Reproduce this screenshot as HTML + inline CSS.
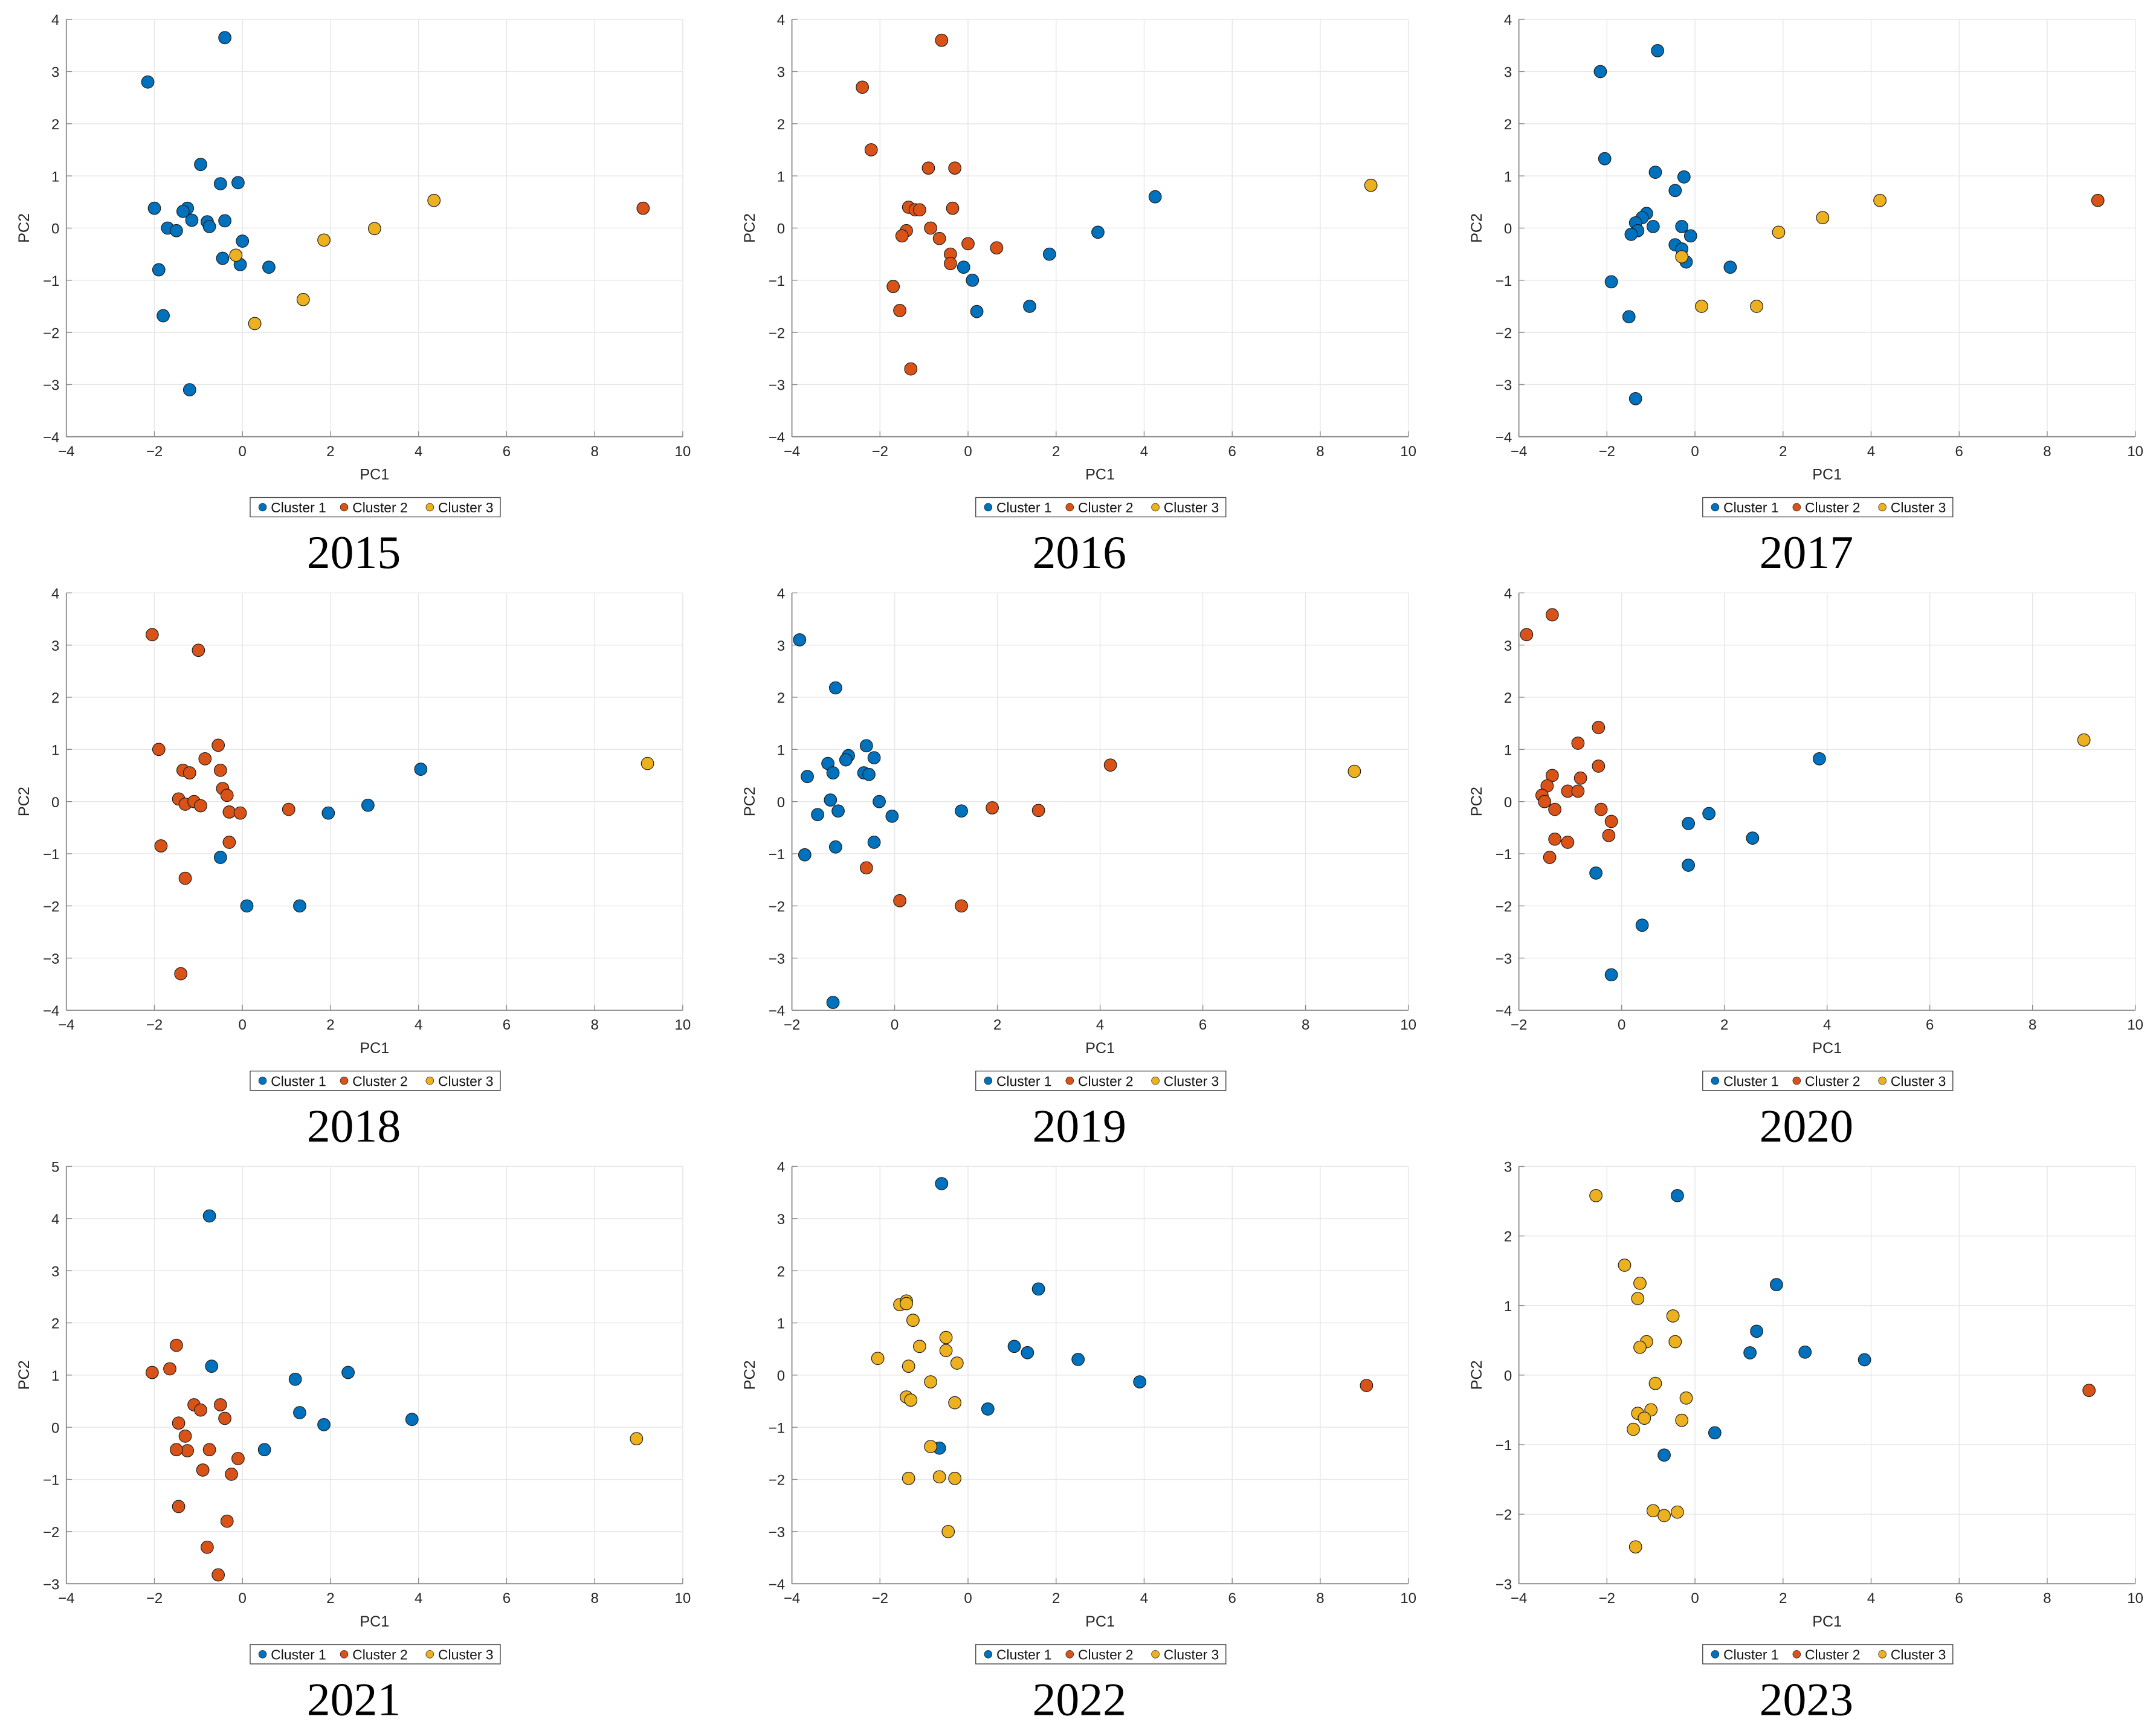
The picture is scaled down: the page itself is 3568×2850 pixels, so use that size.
<!DOCTYPE html>
<html><head><meta charset="utf-8"><style>
html,body{margin:0;padding:0;background:#fff;}
svg{display:block;}
</style></head><body>
<svg id="fig" width="3568" height="2850" viewBox="0 0 1560 1246" xmlns="http://www.w3.org/2000/svg" font-family="Liberation Sans, sans-serif"></svg>
<script>
const years = ["2015","2016","2017","2018","2019","2020","2021","2022","2023"];
const xRanges = [[-4,10],[-4,10],[-4,10],[-4,10],[-2,10],[-2,10],[-4,10],[-4,10],[-4,10]];
const yRanges = [[-4,4],[-4,4],[-4,4],[-4,4],[-4,4],[-4,4],[-3,5],[-4,4],[-3,3]];
const c1_2015 = [[-0.4,3.65],[-2.15,2.8],[-0.95,1.22],[-0.5,0.85],[-0.1,0.87],[-2,0.38],[-1.25,0.38],[-1.35,0.32],[-1.15,0.15],[-0.8,0.12],[-0.75,0.03],[-0.4,0.14],[-1.7,0],[-1.5,-0.05],[0,-0.25],[-0.45,-0.58],[-0.05,-0.7],[0.6,-0.75],[-1.9,-0.8],[-1.8,-1.68],[-1.2,-3.1]];
const c2_2015 = [[9.1,0.38]];
const c3_2015 = [[4.35,0.53],[3,-0.01],[1.85,-0.23],[-0.15,-0.52],[1.38,-1.37],[0.28,-1.83]];
const c1_2016 = [[4.25,0.6],[2.95,-0.08],[1.85,-0.5],[-0.1,-0.75],[0.1,-1],[0.2,-1.6],[1.4,-1.5]];
const c2_2016 = [[-0.6,3.6],[-2.4,2.7],[-2.2,1.5],[-0.9,1.15],[-0.3,1.15],[-1.35,0.4],[-1.2,0.35],[-1.1,0.35],[-0.35,0.38],[-1.4,-0.05],[-1.5,-0.15],[-0.85,0],[-0.65,-0.2],[0,-0.3],[0.65,-0.38],[-0.4,-0.5],[-0.4,-0.68],[-1.7,-1.12],[-1.55,-1.58],[-1.3,-2.7]];
const c3_2016 = [[9.15,0.82]];
const c1_2017 = [[-0.85,3.4],[-2.15,3],[-2.05,1.33],[-0.9,1.07],[-0.25,0.98],[-0.45,0.72],[-1.1,0.28],[-1.2,0.2],[-1.35,0.1],[-1.3,-0.05],[-1.45,-0.12],[-0.95,0.03],[-0.3,0.03],[-0.1,-0.15],[-0.45,-0.32],[-0.3,-0.4],[-0.2,-0.65],[0.8,-0.75],[-1.9,-1.03],[-1.5,-1.7],[-1.35,-3.27]];
const c2_2017 = [[9.15,0.53]];
const c3_2017 = [[4.2,0.53],[2.9,0.2],[1.9,-0.08],[-0.3,-0.55],[0.15,-1.5],[1.4,-1.5]];
const c1_2018 = [[4.05,0.62],[2.85,-0.07],[1.95,-0.22],[-0.5,-1.07],[0.1,-2],[1.3,-2]];
const c2_2018 = [[-2.05,3.2],[-1,2.9],[-1.9,1],[-0.55,1.08],[-0.85,0.82],[-1.35,0.6],[-1.2,0.55],[-0.5,0.6],[-0.45,0.25],[-0.35,0.12],[-1.45,0.05],[-1.3,-0.05],[-1.1,0],[-0.95,-0.08],[-0.3,-0.2],[-0.05,-0.22],[1.05,-0.15],[-0.3,-0.78],[-1.85,-0.85],[-1.3,-1.47],[-1.4,-3.3]];
const c3_2018 = [[9.2,0.73]];
const c1_2019 = [[-1.85,3.1],[-1.15,2.18],[-0.55,1.07],[-1.3,0.73],[-0.9,0.88],[-0.95,0.8],[-0.4,0.84],[-1.2,0.55],[-1.7,0.48],[-0.6,0.55],[-0.5,0.52],[-1.25,0.03],[-1.1,-0.18],[-0.3,0],[-0.05,-0.28],[-1.5,-0.25],[-1.75,-1.02],[-1.15,-0.87],[-0.4,-0.78],[1.3,-0.18],[-1.2,-3.85]];
const c2_2019 = [[4.2,0.7],[1.9,-0.12],[2.8,-0.17],[-0.55,-1.27],[0.1,-1.9],[1.3,-2]];
const c3_2019 = [[8.95,0.58]];
const c1_2020 = [[3.85,0.82],[1.7,-0.23],[1.3,-0.42],[2.55,-0.7],[1.3,-1.22],[-0.5,-1.37],[0.4,-2.37],[-0.2,-3.32]];
const c2_2020 = [[-1.35,3.58],[-1.85,3.2],[-0.45,1.42],[-0.85,1.12],[-0.45,0.68],[-1.35,0.5],[-0.8,0.45],[-1.45,0.3],[-1.55,0.12],[-1.5,0],[-1.05,0.2],[-0.85,0.2],[-0.4,-0.15],[-1.3,-0.15],[-0.2,-0.38],[-1.3,-0.72],[-1.05,-0.78],[-0.25,-0.65],[-1.4,-1.07]];
const c3_2020 = [[9,1.18]];
const c1_2021 = [[-0.75,4.05],[-0.7,1.17],[1.2,0.92],[2.4,1.05],[1.3,0.28],[1.85,0.05],[3.85,0.15],[0.5,-0.43]];
const c2_2021 = [[-2.05,1.05],[-1.65,1.12],[-1.5,1.57],[-1.1,0.43],[-0.95,0.33],[-0.5,0.43],[-1.45,0.08],[-0.4,0.17],[-1.3,-0.17],[-1.25,-0.45],[-1.5,-0.43],[-0.75,-0.43],[-0.1,-0.6],[-0.25,-0.9],[-0.9,-0.82],[-1.45,-1.52],[-0.35,-1.8],[-0.8,-2.3],[-0.55,-2.83]];
const c3_2021 = [[8.95,-0.22]];
const c1_2022 = [[-0.6,3.67],[1.6,1.65],[1.05,0.55],[1.35,0.43],[2.5,0.3],[3.9,-0.13],[0.45,-0.65],[-0.65,-1.4]];
const c2_2022 = [[9.05,-0.2]];
const c3_2022 = [[-1.55,1.35],[-1.4,1.42],[-1.4,1.37],[-1.25,1.05],[-0.5,0.72],[-1.1,0.55],[-0.5,0.47],[-2.05,0.32],[-0.25,0.23],[-1.35,0.17],[-0.85,-0.13],[-1.4,-0.42],[-1.3,-0.48],[-0.3,-0.53],[-0.85,-1.37],[-1.35,-1.98],[-0.65,-1.95],[-0.3,-1.98],[-0.45,-3]];
const c1_2023 = [[-0.4,2.58],[1.85,1.3],[1.4,0.63],[1.25,0.32],[2.5,0.33],[3.85,0.22],[0.45,-0.83],[-0.7,-1.15]];
const c2_2023 = [[8.95,-0.22]];
const c3_2023 = [[-2.25,2.58],[-1.6,1.58],[-1.25,1.32],[-1.3,1.1],[-0.5,0.85],[-1.1,0.48],[-0.45,0.48],[-1.25,0.4],[-0.9,-0.12],[-0.2,-0.33],[-1.0,-0.5],[-1.3,-0.55],[-1.15,-0.62],[-1.4,-0.78],[-0.3,-0.65],[-0.95,-1.95],[-0.7,-2.02],[-0.4,-1.97],[-1.35,-2.47]];
const clusterLabels = ["Cluster 1","Cluster 2","Cluster 3"];
const series = [
 [c1_2015,c2_2015,c3_2015],[c1_2016,c2_2016,c3_2016],[c1_2017,c2_2017,c3_2017],
 [c1_2018,c2_2018,c3_2018],[c1_2019,c2_2019,c3_2019],[c1_2020,c2_2020,c3_2020],
 [c1_2021,c2_2021,c3_2021],[c1_2022,c2_2022,c3_2022],[c1_2023,c2_2023,c3_2023]];

const colors = ["#0072BD","#D95319","#EDB120"];
const svg = document.getElementById('fig');
const NS = "http://www.w3.org/2000/svg";
const colL = [48, 573, 1099], colW = 446;
const rowT = [14, 429, 844], rowH = 302;
function mk(tag, attrs, parent){const e=document.createElementNS(NS,tag);for(const k in attrs)e.setAttribute(k,attrs[k]);(parent||svg).appendChild(e);return e;}

years.forEach((yr, i) => {
  const L = colL[i%3], T = rowT[Math.floor(i/3)];
  const [x0,x1] = xRanges[i], [y0,y1] = yRanges[i];
  const sx = v => L + (v - x0) / (x1 - x0) * colW;
  const sy = v => T + (y1 - v) / (y1 - y0) * rowH;
  const g = mk('g', {});
  
  
  const grid = mk('g', {}, g);
  
  
  for (let v = x0; v <= x1; v += 2) {
    mk('line', {x1:sx(v),x2:sx(v),y1:T,y2:T+rowH,stroke:'#e6e6e6','stroke-width':0.6}, grid);
  }
  for (let v = y0; v <= y1; v += 1) {
    mk('line', {x1:L,x2:L+colW,y1:sy(v),y2:sy(v),stroke:'#e6e6e6','stroke-width':0.6}, grid);
  }
  const ax = mk('g', {}, g);
  
  
  mk('line', {x1:L,x2:L,y1:T,y2:T+rowH,stroke:'#8a8a8a','stroke-width':0.8}, ax);
  mk('line', {x1:L,x2:L+colW,y1:T+rowH,y2:T+rowH,stroke:'#8a8a8a','stroke-width':0.8}, ax);
  for (let v = x0; v <= x1; v += 2) {
    mk('line', {x1:sx(v),x2:sx(v),y1:T+rowH,y2:T+rowH-4,stroke:'#8a8a8a','stroke-width':0.6}, ax);
    const t = mk('text', {x:sx(v),y:T+rowH+14,'font-size':10.5,'text-anchor':'middle',fill:'#262626'}, ax);
    
    
    t.textContent = String(v).replace('-', '\u2212');
  }
  for (let v = y0; v <= y1; v += 1) {
    mk('line', {x1:L,x2:L+4,y1:sy(v),y2:sy(v),stroke:'#8a8a8a','stroke-width':0.6}, ax);
    const t = mk('text', {x:L-5,y:sy(v)+4,'font-size':10.5,'text-anchor':'end',fill:'#262626'}, ax);
    
    
    t.textContent = String(v).replace('-', '\u2212');
  }
  const xt = mk('text', {x:L+colW/2,y:T+rowH+31,'font-size':11,'text-anchor':'middle',fill:'#262626'}, ax);
  
  
  xt.textContent = 'PC1';
  const yt = mk('text', {x:0,y:0,'font-size':11,'text-anchor':'middle',fill:'#262626',transform:`translate(${L-27},${T+rowH/2}) rotate(-90)`}, ax);
  
  
  yt.textContent = 'PC2';
  series[i].forEach((pts, c) => {
    const sg = mk('g', {}, g);
    
    
    pts.forEach(p => {
      const pt = mk('circle', {cx:sx(p[0]),cy:sy(p[1]),r:4.5,fill:colors[c],stroke:'#1a1a1a','stroke-width':0.5}, sg);
      
      
    });
  });
  const lx = L + 133, ly = T + rowH + 44;
  const lg = mk('g', {}, g);
  
  
  mk('rect', {x:lx,y:ly,width:181,height:14,fill:'#fff',stroke:'#444','stroke-width':0.6}, lg);
  const offs = [6, 65, 127];
  clusterLabels.forEach((lab, c) => {
    const e = mk('g', {}, lg);
    
    
    mk('circle', {cx:lx+offs[c]+3,cy:ly+7,r:2.8,fill:colors[c],stroke:'#1a1a1a','stroke-width':0.3}, e);
    const t = mk('text', {x:lx+offs[c]+9,y:ly+10.8,'font-size':10,fill:'#111'}, e);
    t.textContent = lab;
  });
  const tt = mk('text', {x:L+colW/2-15,y:T+rowH+95,'font-size':34,'text-anchor':'middle',fill:'#000','font-family':'Liberation Serif, serif'}, g);
  
  
  tt.textContent = yr;
});
</script>
</body></html>
